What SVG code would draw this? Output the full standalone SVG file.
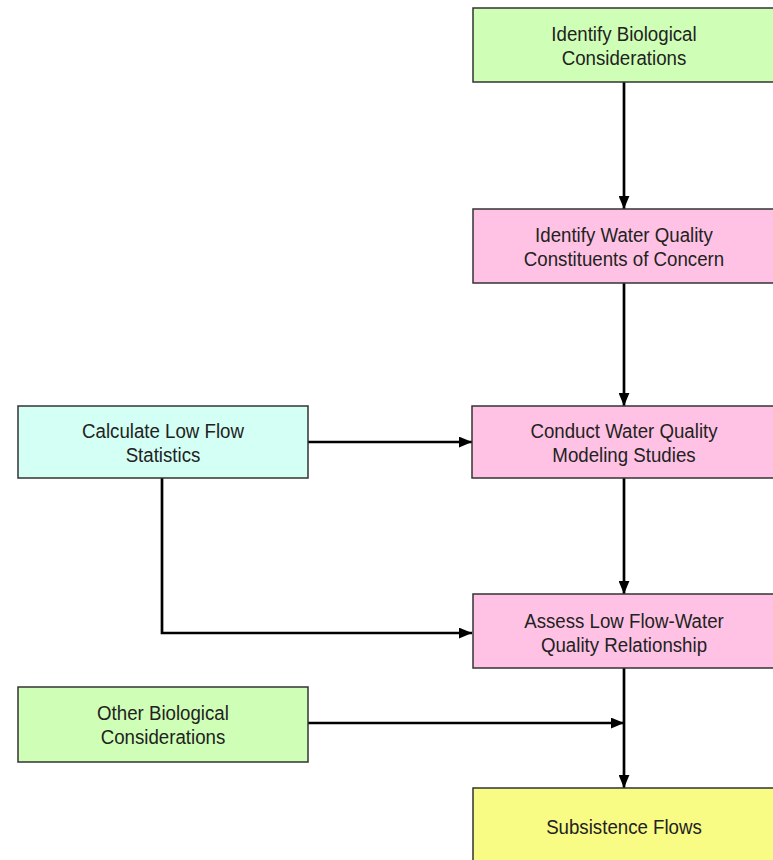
<svg xmlns="http://www.w3.org/2000/svg" width="773" height="860" viewBox="0 0 773 860">
<defs>
<marker id="arr" viewBox="0 0 12 10" refX="12" refY="5" markerWidth="13" markerHeight="11" markerUnits="userSpaceOnUse" orient="auto">
<path d="M0,0 L12,5 L0,10 Z" fill="#000"/>
</marker>
</defs>
<style>
.box{stroke:#333;stroke-width:1.5}
.green{fill:#cfffb6}
.pink{fill:#ffc2e4}
.cyan{fill:#d4fff4}
.yellow{fill:#f8fb84}
.t{font-family:"Liberation Sans",Arial,sans-serif;font-size:21px;fill:#222;text-anchor:middle}
.c{fill:none;stroke:#000;stroke-width:2.7}
</style>
<rect width="773" height="860" fill="#fff"/>
<g id="connectors">
<line class="c" x1="624" y1="82" x2="624" y2="209" marker-end="url(#arr)"/>
<line class="c" x1="624" y1="283" x2="624" y2="406" marker-end="url(#arr)"/>
<line class="c" x1="308" y1="442" x2="472" y2="442" marker-end="url(#arr)"/>
<line class="c" x1="624" y1="478" x2="624" y2="594" marker-end="url(#arr)"/>
<polyline class="c" points="162,478 162,633 472,633" marker-end="url(#arr)"/>
<line class="c" x1="624" y1="668" x2="624" y2="788" marker-end="url(#arr)"/>
<line class="c" x1="308" y1="723" x2="624" y2="723" marker-end="url(#arr)"/>
</g>
<g id="n1">
<rect class="box green" x="473" y="8" width="304" height="74"/>
<g transform="matrix(0.89 0 0 1 68.64 0)">
<text class="t" x="624" y="41">Identify Biological</text>
<text class="t" x="624" y="65">Considerations</text>
</g>
</g>
<g id="n2">
<rect class="box pink" x="473" y="209" width="304" height="74"/>
<g transform="matrix(0.89 0 0 1 68.64 0)">
<text class="t" x="624" y="242">Identify Water Quality</text>
<text class="t" x="624" y="266">Constituents of Concern</text>
</g>
</g>
<g id="n3">
<rect class="box pink" x="472" y="406" width="305" height="72"/>
<g transform="matrix(0.89 0 0 1 68.64 0)">
<text class="t" x="624" y="438">Conduct Water Quality</text>
<text class="t" x="624" y="462">Modeling Studies</text>
</g>
</g>
<g id="n4">
<rect class="box cyan" x="18" y="406" width="290" height="72"/>
<g transform="matrix(0.89 0 0 1 17.93 0)">
<text class="t" x="163" y="438">Calculate Low Flow</text>
<text class="t" x="163" y="462">Statistics</text>
</g>
</g>
<g id="n5">
<rect class="box pink" x="473" y="594" width="304" height="74"/>
<g transform="matrix(0.89 0 0 1 68.64 0)">
<text class="t" x="624" y="628">Assess Low Flow-Water</text>
<text class="t" x="624" y="652">Quality Relationship</text>
</g>
</g>
<g id="n6">
<rect class="box green" x="18" y="687" width="290" height="75"/>
<g transform="matrix(0.89 0 0 1 17.93 0)">
<text class="t" x="163" y="720">Other Biological</text>
<text class="t" x="163" y="744">Considerations</text>
</g>
</g>
<g id="n7">
<rect class="box yellow" x="473" y="788" width="304" height="80"/>
<g transform="matrix(0.89 0 0 1 68.64 0)">
<text class="t" x="624" y="834">Subsistence Flows</text>
</g>
</g>
</svg>
